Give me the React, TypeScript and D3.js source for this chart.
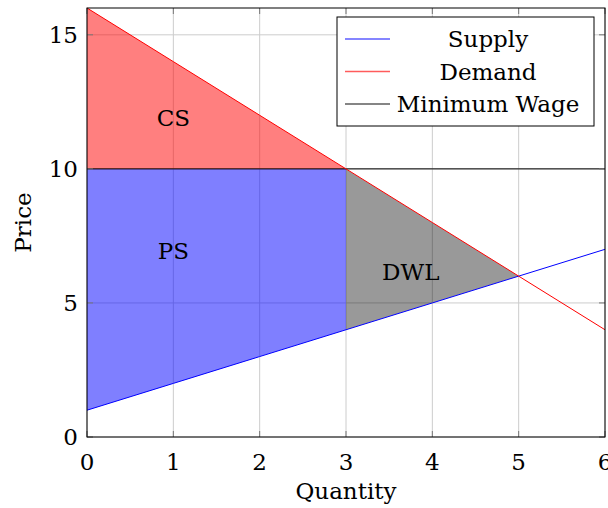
import * as d3 from 'd3';

// market data
const quantity = [0, 1, 2, 3, 4, 5, 6];
const supplyPrice = [1, 2, 3, 4, 5, 6, 7];
const demandPrice = [16, 14, 12, 10, 8, 6, 4];
const minimumWage = 10;

const xTicks = [0, 1, 2, 3, 4, 5, 6];
const yTicks = [0, 5, 10, 15];

// surplus regions as [quantity, price] corners
const csRegion: [number, number][] = [[0, 16], [3, 10], [0, 10]];
const psRegion: [number, number][] = [[0, 10], [3, 10], [3, 4], [0, 1]];
const dwlRegion: [number, number][] = [[3, 10], [3, 4], [5, 6]];

const areaLabels = [
    { text: 'CS', q: 1, p: 11.9 },
    { text: 'PS', q: 1, p: 6.94 },
    { text: 'DWL', q: 3.75, p: 6.15 },
];

const legendItems = [
    { label: 'Supply', color: '#5c5cff' },
    { label: 'Demand', color: '#ff5c5c' },
    { label: 'Minimum Wage', color: '#5c5c5c' },
];

const width = 608;
const height = 508;
const margin = { top: 8, right: 3, bottom: 71, left: 87 };
const font = 'DejaVu Serif, serif';

function App() {
    const x = d3.scaleLinear().domain([0, 6]).range([margin.left, width - margin.right]);
    const y = d3.scaleLinear().domain([0, 16]).range([height - margin.bottom, margin.top]);
    const [x0, x1] = x.range();
    const [y0, y1] = y.range();

    const line = d3.line<[number, number]>().x((d) => x(d[0])).y((d) => y(d[1]));
    const area = (pts: [number, number][]) => line(pts) + 'Z';

    const supply = quantity.map((q, i) => [q, supplyPrice[i]] as [number, number]);
    const demand = quantity.map((q, i) => [q, demandPrice[i]] as [number, number]);
    const wage: [number, number][] = [[0, minimumWage], [6, minimumWage]];

    const legendX = 337;
    const legendY = 17;

    return (
        <svg width={width} height={height} style={{ position: 'absolute', left: 0, top: 0, fontFamily: font }}>
            {/* grid */}
            <g stroke="#cccccc" strokeWidth={1}>
                {xTicks.map((t) => <line key={'gx' + t} x1={x(t)} x2={x(t)} y1={y0} y2={y1} />)}
                {yTicks.map((t) => <line key={'gy' + t} x1={x0} x2={x1} y1={y(t)} y2={y(t)} />)}
            </g>

            {/* filled regions */}
            <path d={area(csRegion)} fill="#ff0000" fillOpacity={0.5} />
            <path d={area(psRegion)} fill="#0000ff" fillOpacity={0.5} />
            <path d={area(dwlRegion)} fill="#000000" fillOpacity={0.4} />

            {/* curves */}
            <path d={line(wage)!} fill="none" stroke="#000" strokeWidth={1} />
            <path d={line(supply)!} fill="none" stroke="#0000ff" strokeWidth={1} />
            <path d={line(demand)!} fill="none" stroke="#ff0000" strokeWidth={1} />

            {/* ticks */}
            <g stroke="#777" strokeWidth={1}>
                {xTicks.map((t) => (
                    <g key={'tx' + t}>
                        <line x1={x(t)} x2={x(t)} y1={y0} y2={y0 - 6} />
                        <line x1={x(t)} x2={x(t)} y1={y1} y2={y1 + 6} />
                    </g>
                ))}
                {yTicks.map((t) => (
                    <g key={'ty' + t}>
                        <line x1={x0} x2={x0 + 6} y1={y(t)} y2={y(t)} />
                        <line x1={x1} x2={x1 - 6} y1={y(t)} y2={y(t)} />
                    </g>
                ))}
            </g>

            {/* axis box */}
            <rect x={x0} y={y1} width={x1 - x0} height={y0 - y1} fill="none" stroke="#000" strokeWidth={1} />

            {/* tick labels */}
            <g fontSize={23} fill="#000">
                {xTicks.map((t) => (
                    <text key={'lx' + t} x={x(t)} y={y0 + 33} textAnchor="middle">{t}</text>
                ))}
                {yTicks.map((t) => (
                    <text key={'ly' + t} x={x0 - 9} y={y(t) + 8} textAnchor="end">{t}</text>
                ))}
            </g>

            {/* axis titles */}
            <text x={(x0 + x1) / 2} y={499} textAnchor="middle" fontSize={23}>Quantity</text>
            <text transform={`translate(31,${(y0 + y1) / 2}) rotate(-90)`} textAnchor="middle" fontSize={23}>Price</text>

            {/* region labels */}
            {areaLabels.map((d) => (
                <text key={d.text} x={x(d.q)} y={y(d.p)} textAnchor="middle" dominantBaseline="central" fontSize={23}>
                    {d.text}
                </text>
            ))}

            {/* legend */}
            <g transform={`translate(${legendX},${legendY})`}>
                <rect width={257} height={109} fill="#fff" stroke="#000" strokeWidth={1} />
                {legendItems.map((d, i) => (
                    <g key={d.label} transform={`translate(0,${22 + i * 32.5})`}>
                        <line x1={8} x2={53} y1={0} y2={0} stroke={d.color} strokeWidth={1.5} />
                        <text x={151} y={0} textAnchor="middle" dominantBaseline="central" fontSize={23}>{d.label}</text>
                    </g>
                ))}
            </g>
        </svg>
    );
}

export default App;
